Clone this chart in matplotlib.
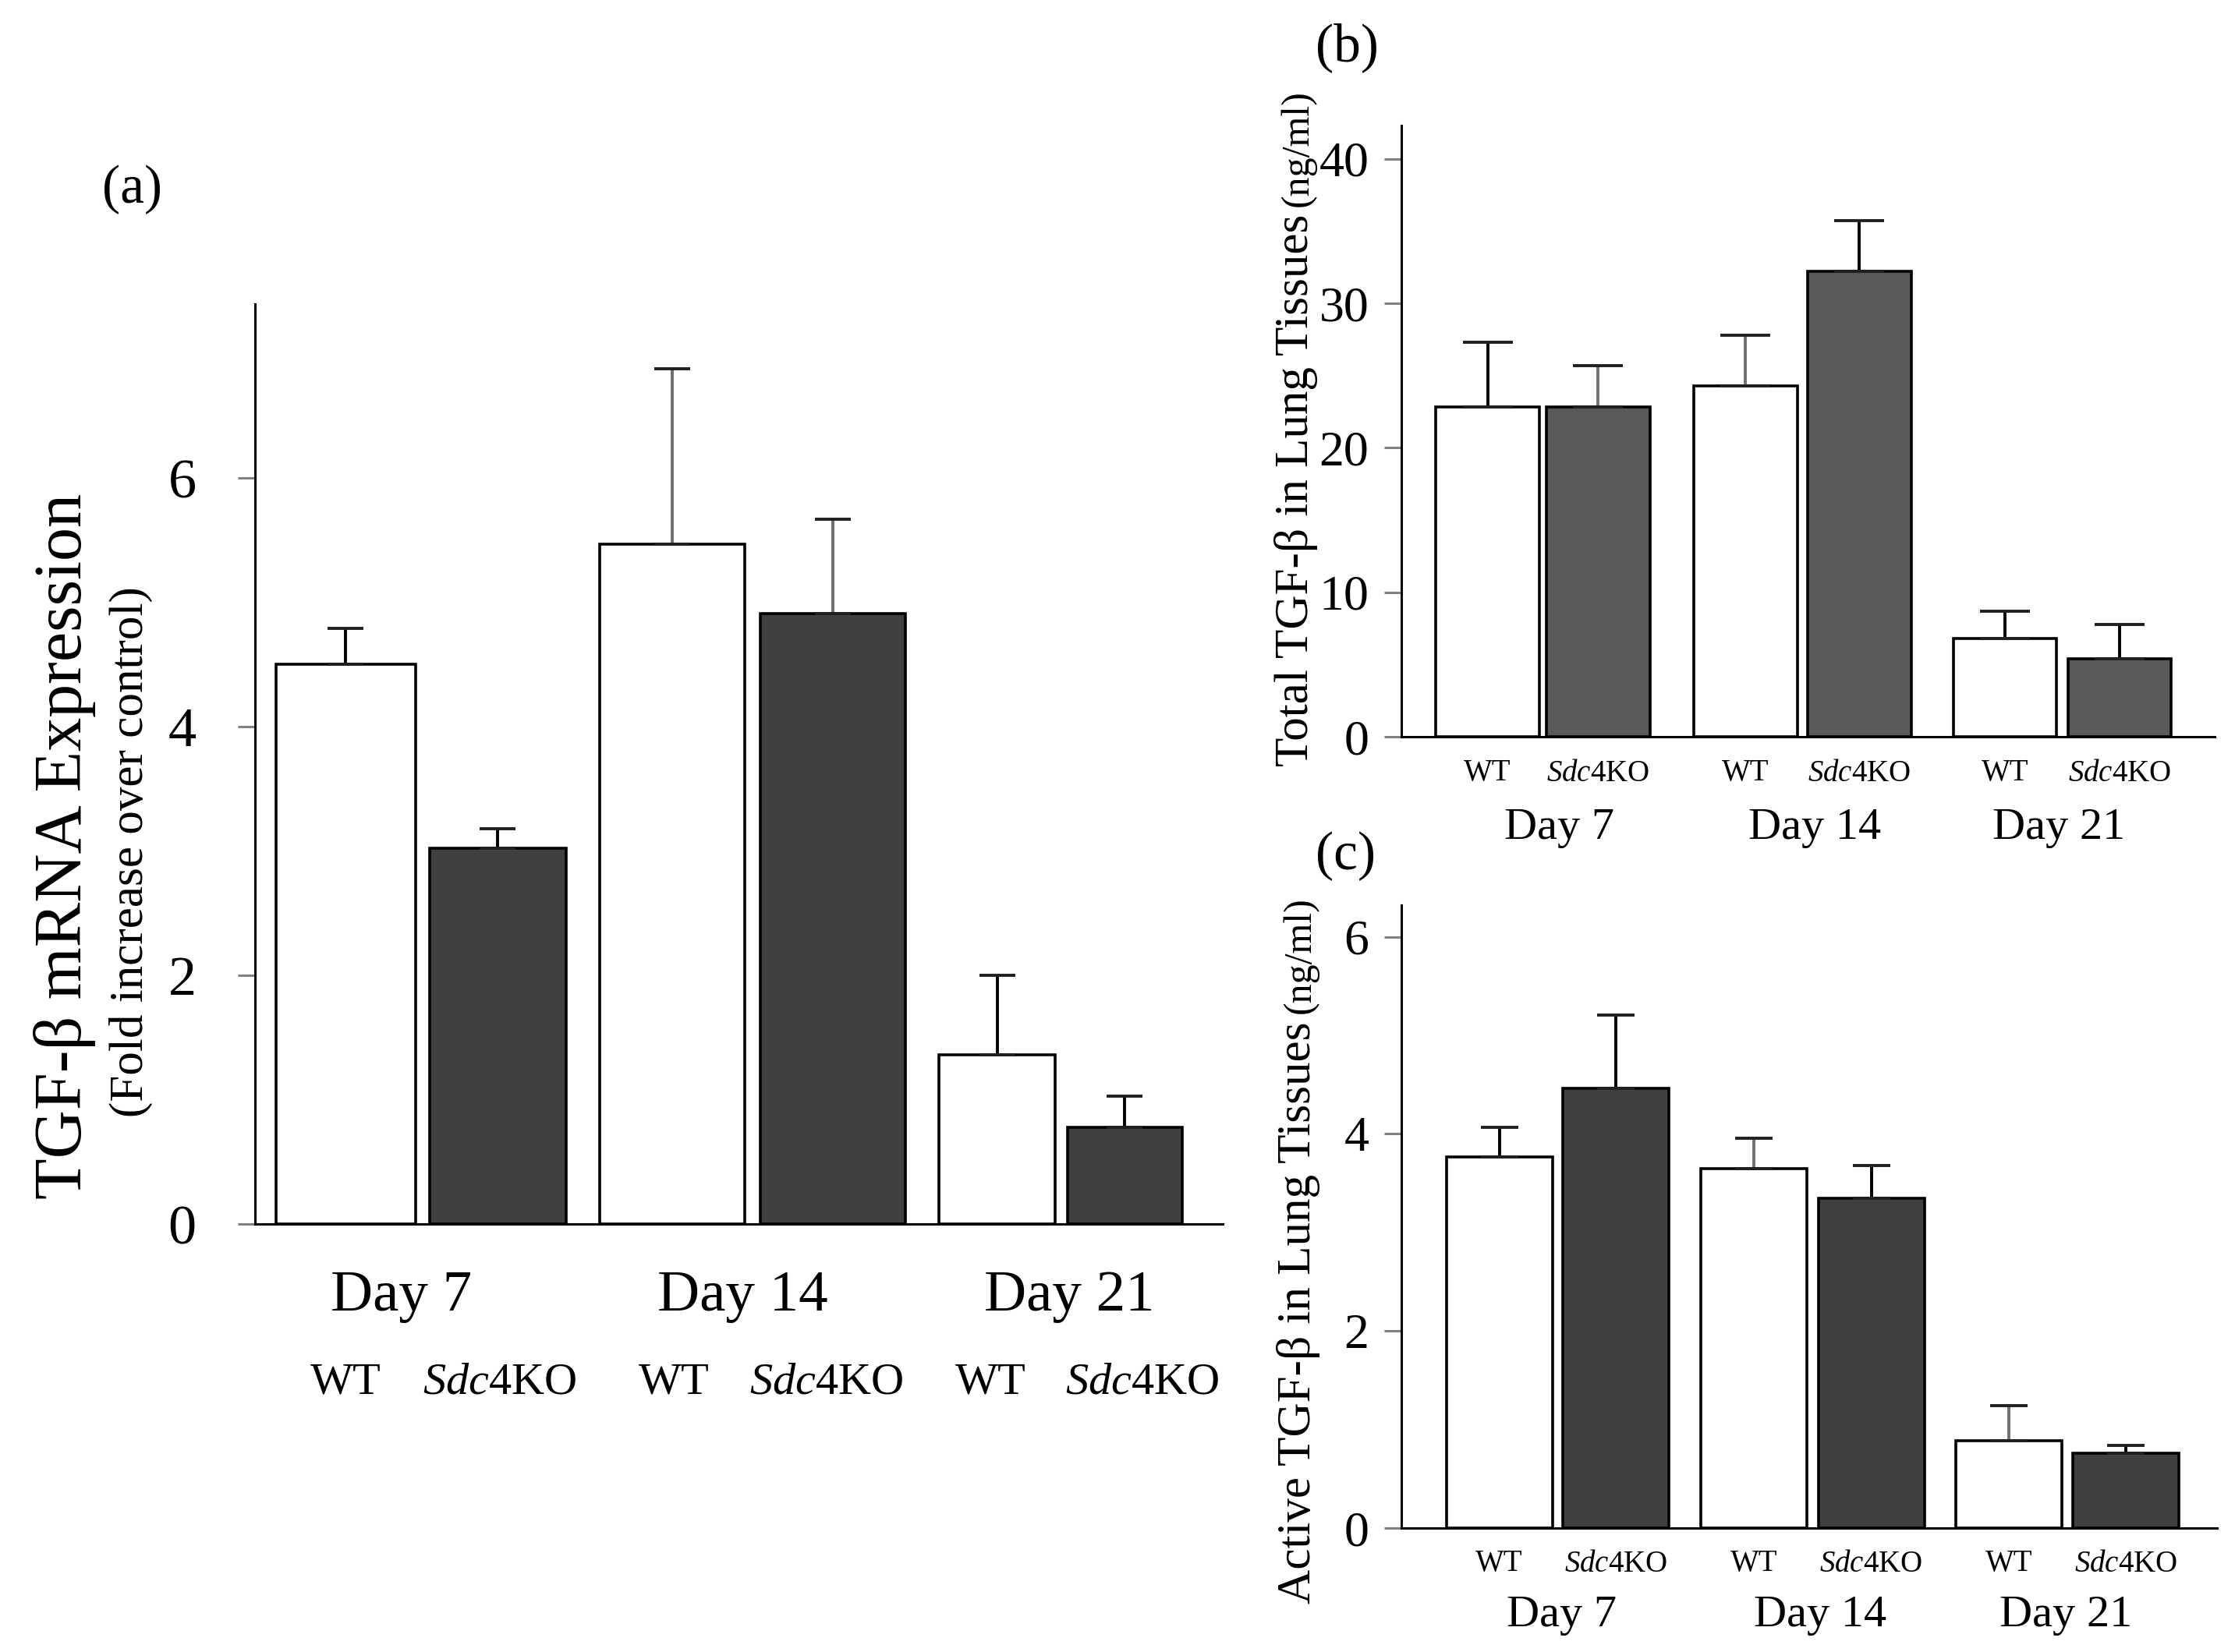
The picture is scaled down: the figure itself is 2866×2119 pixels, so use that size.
import numpy as np
import matplotlib
matplotlib.use('Agg')
import matplotlib.pyplot as plt
from matplotlib import transforms

plt.rcParams['font.family'] = ['Liberation Serif', 'DejaVu Serif']
plt.rcParams['mathtext.fontset'] = 'custom'
plt.rcParams['mathtext.rm'] = 'Liberation Serif'
plt.rcParams['mathtext.it'] = 'Liberation Serif:italic'

# datos
days = ['Day 7', 'Day 14', 'Day 21']
genotypes = ['WT', r'$\mathit{Sdc4}$KO']

# (a) TGF-b mRNA (fold increase over control)
mrna_wt = [4.50, 5.47, 1.36]
mrna_wt_err = [0.29, 1.41, 0.64]
mrna_ko = [3.02, 4.91, 0.78]
mrna_ko_err = [0.16, 0.76, 0.25]

# (b) total TGF-b in lung tissues (ng/ml)
total_wt = [22.8, 24.3, 6.8]
total_wt_err = [4.5, 3.5, 1.9]
total_ko = [22.8, 32.2, 5.4]
total_ko_err = [2.9, 3.5, 2.4]

# (c) active TGF-b in lung tissues (ng/ml)
active_wt = [3.77, 3.65, 0.89]
active_wt_err = [0.30, 0.31, 0.35]
active_ko = [4.46, 3.35, 0.76]
active_ko_err = [0.75, 0.33, 0.08]

fig = plt.figure(figsize=(14.33, 10.595), dpi=200)


def panel(rect, wt, wt_err, ko, ko_err, centers, widths, ko_color, ylim, yticks,
          err_colors, capsize, tick_fs, tick_pad, geno_x, geno_fs, geno_y,
          day_x, day_fs, day_y):
    ax = fig.add_axes(rect)
    vals = [v for pair in zip(wt, ko) for v in pair]
    errs = [e for pair in zip(wt_err, ko_err) for e in pair]
    colors = ['white', ko_color] * 3
    ax.bar(centers, vals, width=widths, color=colors, edgecolor='black',
           linewidth=1.3, zorder=2)
    for x, v, e, c in zip(centers, vals, errs, err_colors):
        eb = ax.errorbar(x, v, yerr=[[0], [e]], fmt='none', ecolor=c,
                         elinewidth=1.4, capsize=capsize, capthick=1.4, zorder=3)
        for cap in eb[1]:
            cap.set_markeredgecolor('#202020')
    ax.set_xlim(0, 1)
    ax.set_ylim(*ylim)
    ax.set_yticks(yticks)
    ax.set_xticks([])
    for s in ['top', 'right']:
        ax.spines[s].set_visible(False)
    for s in ['left', 'bottom']:
        ax.spines[s].set_linewidth(1.1)
    ax.tick_params(axis='y', length=8, width=1.1, color='#808080',
                   labelsize=tick_fs, pad=tick_pad)
    trans = transforms.blended_transform_factory(ax.transAxes, fig.transFigure)
    for i in range(3):
        ax.text(geno_x[2 * i], geno_y, genotypes[0], transform=trans,
                ha='center', va='center', fontsize=geno_fs)
        ax.text(geno_x[2 * i + 1], geno_y, genotypes[1], transform=trans,
                ha='center', va='center', fontsize=geno_fs)
        ax.text(day_x[i], day_y, days[i], transform=trans, ha='center',
                va='center', fontsize=day_fs)
    return ax


# (a)
ax_a = panel([0.114, 0.259, 0.433, 0.557], mrna_wt, mrna_wt_err, mrna_ko, mrna_ko_err,
             [0.094, 0.251, 0.431, 0.597, 0.767, 0.899],
             [0.144, 0.141, 0.150, 0.150, 0.120, 0.119],
             '#404040', (0, 7.4), [0, 2, 4, 6],
             ['black', 'black', '#707070', '#707070', 'black', 'black'],
             8.3, 26, 19,
             [0.094, 0.253, 0.433, 0.591, 0.760, 0.917], 21, 1 - 1773 / 2119,
             [0.151, 0.504, 0.842], 27, 1 - 1663 / 2119)
# (b)
ax_b = panel([0.627, 0.554, 0.364, 0.370], total_wt, total_wt_err, total_ko, total_ko_err,
             [0.106, 0.242, 0.423, 0.563, 0.742, 0.883], [0.127] * 6,
             '#595959', (0, 42.3), [0, 10, 20, 30, 40],
             ['black', '#707070', '#707070', 'black', 'black', 'black'],
             11.5, 23, 7,
             [0.106, 0.242, 0.423, 0.563, 0.742, 0.883], 14, 1 - 992 / 2119,
             [0.194, 0.508, 0.808], 21, 1 - 1062 / 2119)
# (c)
ax_c = panel([0.627, 0.075, 0.365, 0.377], active_wt, active_wt_err, active_ko, active_ko_err,
             [0.120, 0.263, 0.432, 0.576, 0.745, 0.888], [0.13] * 6,
             '#404040', (0, 6.32), [0, 2, 4, 6],
             ['black', 'black', '#707070', 'black', '#707070', 'black'],
             8.8, 23, 7,
             [0.120, 0.263, 0.432, 0.576, 0.745, 0.888], 14, 1 - 2006 / 2119,
             [0.196, 0.513, 0.815], 21, 1 - 2072 / 2119)

# etiquetas de los paneles
fig.text(170 / 2866, 1 - 243 / 2119, '(a)', ha='center', va='center', fontsize=25)
fig.text(1727 / 2866, 1 - 61 / 2119, '(b)', ha='center', va='center', fontsize=25)
fig.text(1725 / 2866, 1 - 1098 / 2119, '(c)', ha='center', va='center', fontsize=25)

# eje y de (a)
fig.text(83 / 2866, 1 - 1086 / 2119, 'TGF-β mRNA Expression', rotation=90,
         ha='center', va='center', fontsize=31)
fig.text(168 / 2866, 1 - 1093 / 2119, '(Fold increase over control)', rotation=90,
         ha='center', va='center', fontsize=22)

# ejes y de (b) y (c): texto grande + (ng/ml) pequeno sobre la misma linea base
fig.canvas.draw()
renderer = fig.canvas.get_renderer()
for main_txt, x0, y0 in [('Total TGF-β in Lung Tissues', 1677, 983),
                         ('Active TGF-β in Lung Tissues', 1680, 2057)]:
    t = fig.text(x0 / 2866, 1 - y0 / 2119, main_txt, rotation=90, rotation_mode='anchor',
                 ha='left', va='baseline', fontsize=22)
    h = t.get_window_extent(renderer).height
    fig.text(x0 / 2866, 1 - (y0 - h - 10) / 2119, '(ng/ml)', rotation=90,
             rotation_mode='anchor', ha='left', va='baseline', fontsize=18)

plt.savefig('out.png', dpi=200)
